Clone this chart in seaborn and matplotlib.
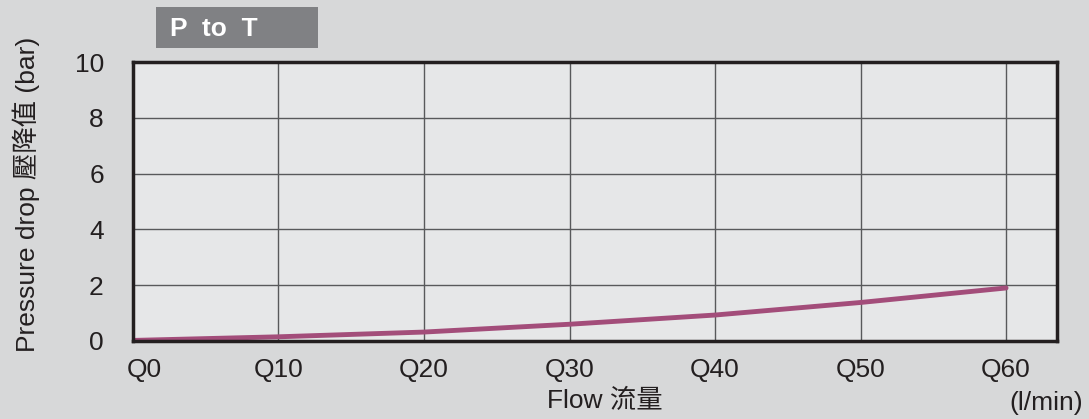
import pandas as pd
import matplotlib.pyplot as plt
import matplotlib.transforms as mtransforms
import seaborn as sns

# data
flow = [0, 10, 20, 30, 40, 50, 60]
pressure = [0.02, 0.15, 0.32, 0.6, 0.93, 1.38, 1.9]
xticks = [0, 10, 20, 30, 40, 50, 60]
xtick_labels = ['Q0', 'Q10', 'Q20', 'Q30', 'Q40', 'Q50', 'Q60']
yticks = [0, 2, 4, 6, 8, 10]

df = pd.DataFrame({'flow': flow, 'pressure': pressure})

sns.set_style('white')
plt.rcParams['font.family'] = ['Liberation Sans', 'Noto Sans CJK TC', 'DejaVu Sans']

fig = plt.figure(figsize=(10.89, 4.19), dpi=100, facecolor='#d7d8d9')
ax = fig.add_axes([0.1221, 0.1862, 0.8485, 0.6658])
ax.set_facecolor('#e6e7e8')

sns.lineplot(data=df, x='flow', y='pressure', ax=ax, color='#a34d7a', linewidth=3.5)

ax.set_xlim(0, 63.5)
ax.set_ylim(0, 10)
ax.set_xticks(xticks)
ax.set_xticklabels(xtick_labels)
ax.set_yticks(yticks)
ax.tick_params(axis='both', length=0, labelsize=19, colors='#231f20')
ax.tick_params(axis='x', pad=12)
ax.tick_params(axis='y', pad=21)
ax.grid(True, color='#58595b', linewidth=1)
ax.set_axisbelow(True)
for s in ax.spines.values():
    s.set_color('#231f20')
    s.set_linewidth(2.5)

# the Q0 label sits a little right of the axis corner
first = ax.get_xticklabels()[0]
first.set_transform(first.get_transform() +
                    mtransforms.ScaledTranslation(0.11, 0, fig.dpi_scale_trans))

ax.set_xlabel('Flow 流量', fontsize=19, color='#231f20')
ax.xaxis.set_label_coords((605 - 133) / 924, (341 - 401) / 279)
ax.xaxis.label.set_va('center')
ax.set_ylabel('Pressure drop 壓降值 (bar)', fontsize=19, color='#231f20')
ax.yaxis.set_label_coords((26 - 133) / 924, (341 - 194) / 279)
ax.yaxis.label.set_va('center')

fig.text(1083 / 1089, 1 - 403 / 419, '(l/min)', fontsize=19, color='#231f20',
         ha='right', va='center')

# title box
box = plt.Rectangle((156 / 1089, 1 - 48 / 419), 162 / 1089, 41 / 419,
                    transform=fig.transFigure, facecolor='#808184', edgecolor='none', zorder=0)
fig.patches.append(box)
fig.text(170 / 1089, 1 - 29 / 419, 'P  to  T', fontsize=19, fontweight='bold', color='white',
         ha='left', va='center')

fig.savefig('out.png', dpi=100, facecolor=fig.get_facecolor())
